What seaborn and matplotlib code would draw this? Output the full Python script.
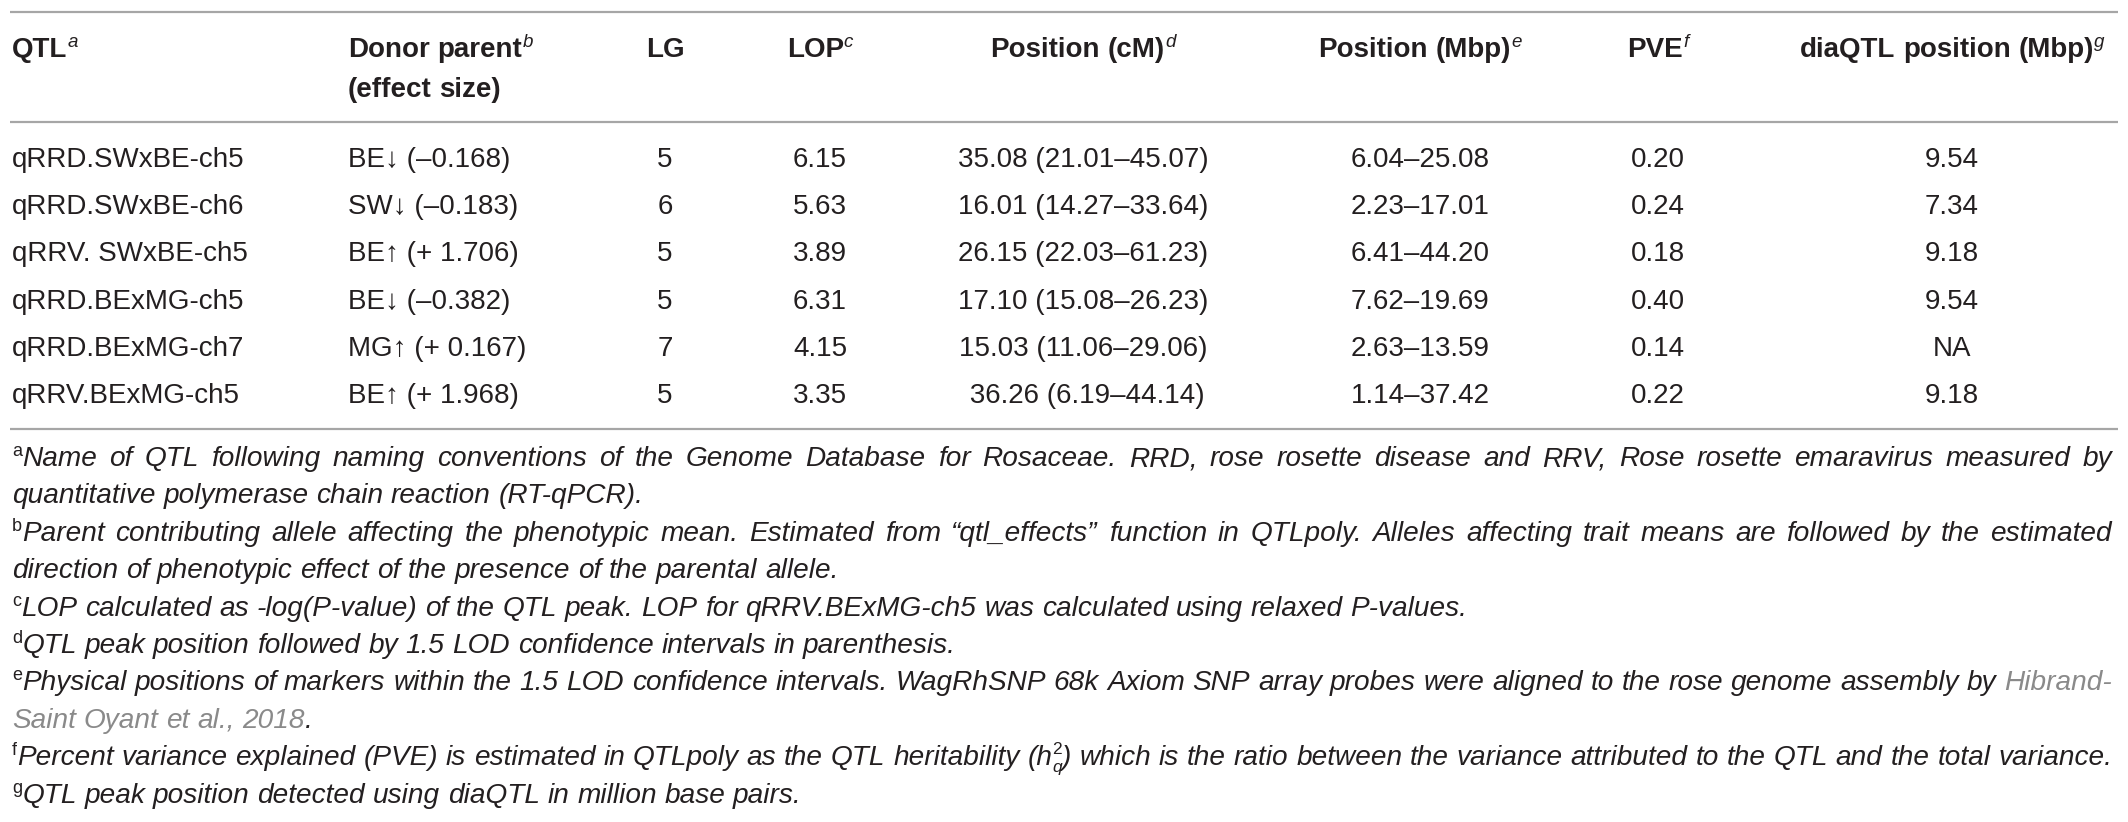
import matplotlib
matplotlib.use("Agg")
import matplotlib.pyplot as plt
import seaborn as sns

# ---------------- table content ----------------
qtl_names = ["qRRD.SWxBE-ch5", "qRRD.SWxBE-ch6", "qRRV. SWxBE-ch5",
             "qRRD.BExMG-ch5", "qRRD.BExMG-ch7", "qRRV.BExMG-ch5"]
donor = ["BE", "SW", "BE", "BE", "MG", "BE"]
direction = ["↓", "↓", "↑", "↓", "↑", "↑"]
effect_size = ["–0.168", "–0.183", "+ 1.706", "–0.382", "+ 0.167", "+ 1.968"]
linkage_group = [5, 6, 5, 5, 7, 5]
lop = ["6.15", "5.63", "3.89", "6.31", "4.15", "3.35"]
peak_cm = ["35.08", "16.01", "26.15", "17.10", "15.03", " 36.26"]
ci_cm = ["21.01–45.07", "14.27–33.64", "22.03–61.23", "15.08–26.23",
         "11.06–29.06", "6.19–44.14"]
pos_mbp = ["6.04–25.08", "2.23–17.01", "6.41–44.20", "7.62–19.69",
           "2.63–13.59", "1.14–37.42"]
pve = ["0.20", "0.24", "0.18", "0.40", "0.14", "0.22"]
diaqtl_mbp = ["9.54", "7.34", "9.18", "9.54", "NA", "9.18"]

header_labels = ["QTL", "Donor parent", "LG", "LOP", "Position (cM)",
                 "Position (Mbp)", "PVE", "diaQTL position (Mbp)"]
header_notes = ["a", "b", "", "c", "d", "e", "f", "g"]
header_second = ["", "(effect size)", "", "", "", "", "", ""]

# § toggles the grey (link) colour
footnote_marks = ["a", "", "b", "", "c", "d", "e", "", "f", "g"]
footnote_lines = [
    "Name of QTL following naming conventions of the Genome Database for Rosaceae. RRD, rose rosette disease and RRV, Rose rosette emaravirus measured by",
    "quantitative polymerase chain reaction (RT-qPCR).",
    "Parent contributing allele affecting the phenotypic mean. Estimated from “qtl_effects” function in QTLpoly. Alleles affecting trait means are followed by the estimated",
    "direction of phenotypic effect of the presence of the parental allele.",
    "LOP calculated as -log(P-value) of the QTL peak. LOP for qRRV.BExMG-ch5 was calculated using relaxed P-values.",
    "QTL peak position followed by 1.5 LOD confidence intervals in parenthesis.",
    "Physical positions of markers within the 1.5 LOD confidence intervals. WagRhSNP 68k Axiom SNP array probes were aligned to the rose genome assembly by §Hibrand-",
    "Saint Oyant et al., 2018§.",
    "Percent variance explained (PVE) is estimated in QTLpoly as the QTL heritability (h_q^2) which is the ratio between the variance attributed to the QTL and the total variance.",
    "QTL peak position detected using diaQTL in million base pairs.",
]
footnote_justified = [True, False, True, False, False, False, True, False, True, False]

# ---------------- layout / style ----------------
W, H = 2128, 822
sns.set_theme(style="white")
FAM = ["Liberation Sans", "DejaVu Sans"]
plt.rcParams["font.family"] = FAM

TXT = "#231f20"
LINK = "#8a8a8a"
RULE = "#a6a6a6"
BODY = 20.0
FOOT = 20.2

fig = plt.figure(figsize=(W / 100, H / 100), dpi=100)
ax = fig.add_axes([0, 0, 1, 1])
ax.set_xlim(0, W)
ax.set_ylim(H, 0)
ax.set_axis_off()
renderer = fig.canvas.get_renderer()

HEAD = dict(size=BODY, weight="bold")
HSUP = dict(size=13.5, style="italic")
FST = dict(size=FOOT, style="italic")
FLINK = dict(size=FOOT, style="italic", color=LINK)
FSUP = dict(size=13.0)


def make(text, st):
    return ax.text(0, 0, text, fontsize=st.get("size", BODY),
                   fontweight=st.get("weight", "normal"),
                   fontstyle=st.get("style", "normal"),
                   color=st.get("color", TXT), ha="left", va="baseline")


def text_w(t):
    return t.get_window_extent(renderer).width


def space_w(st):
    a = make("n n", st)
    b = make("nn", st)
    w = text_w(a) - text_w(b)
    a.remove()
    b.remove()
    return w


def build_word(segs):
    items = []
    off = 0.0
    prev_start = 0.0
    for seg in segs:
        t = make(seg["text"], seg["st"])
        w = text_w(t)
        if seg.get("stack"):
            start = prev_start
            off = max(off, start + w)
        else:
            start = off
            off = start + w
        items.append((t, start, seg.get("rise", 0.0)))
        prev_start = start
    return items, off


def draw_line(words, y, gap_style, x=None, center=None, right=None):
    built = [build_word(w) for w in words]
    ws = [b[1] for b in built]
    gap = space_w(gap_style)
    total = sum(ws) + gap * (len(ws) - 1)
    if center is not None:
        x = center - total / 2
    if right is not None and len(ws) > 1:
        gap = (right - x - sum(ws)) / (len(ws) - 1)
    cx = x
    for items, w in built:
        for t, start, rise in items:
            t.set_position((cx + start, y - rise))
        cx += w + gap


# ---------------- rules ----------------
RULE_X0, RULE_X1 = 10, 2118
for yr in (11.7, 121.7, 429.0):
    ax.plot([RULE_X0, RULE_X1], [yr, yr], color=RULE, lw=1.6,
            solid_capstyle="butt")

# ---------------- header ----------------
col_x = [12, 348, 665, 820, 1083, 1420, 1658, 1952]
col_align = ["left", "left", "center", "center", "center", "center", "center", "center"]
HEAD_Y1, HEAD_Y2 = 57.0, 97.0

for lab, note, second, cx, al in zip(header_labels, header_notes, header_second,
                                      col_x, col_align):
    words = [[dict(text=w, st=HEAD)] for w in lab.split(" ")]
    if note:
        words[-1].append(dict(text=note, st=HSUP, rise=10.0))
    if al == "left":
        draw_line(words, HEAD_Y1, HEAD, x=cx)
    else:
        draw_line(words, HEAD_Y1, HEAD, center=cx)
    if second:
        w2 = [[dict(text=w, st=HEAD)] for w in second.split(" ")]
        if al == "left":
            draw_line(w2, HEAD_Y2, HEAD, x=cx)
        else:
            draw_line(w2, HEAD_Y2, HEAD, center=cx)

# ---------------- body ----------------
ROW0, ROWSTEP = 167.0, 47.2
for i in range(len(qtl_names)):
    y = ROW0 + i * ROWSTEP
    cells = [
        qtl_names[i],
        f"{donor[i]}{direction[i]} ({effect_size[i]})",
        str(linkage_group[i]),
        lop[i],
        f"{peak_cm[i]} ({ci_cm[i]})",
        pos_mbp[i],
        pve[i],
        diaqtl_mbp[i],
    ]
    for txt, cx, al in zip(cells, col_x, col_align):
        ax.text(cx, y, txt, fontsize=BODY, color=TXT, ha=al, va="baseline")

# ---------------- footnotes ----------------
FN0, FNSTEP = 466.0, 37.4
FN_X, FN_RIGHT = 12, 2112
state = {"link": False}
for k, (mark, line, just) in enumerate(zip(footnote_marks, footnote_lines,
                                          footnote_justified)):
    y = FN0 + k * FNSTEP
    words = []
    for j, tok in enumerate(line.split(" ")):
        segs = []
        if j == 0 and mark:
            segs.append(dict(text=mark, st=FSUP, rise=10.0))
        if tok == "(h_q^2)":
            segs += [dict(text="(h", st=FST),
                     dict(text="2", st=dict(size=12.5), rise=11.0),
                     dict(text="q", st=dict(size=12.5, style="italic"), rise=-7.0,
                          stack=True),
                     dict(text=")", st=FST)]
        else:
            parts = tok.split("§")
            for p_i, p in enumerate(parts):
                if p_i > 0:
                    state["link"] = not state["link"]
                if p:
                    segs.append(dict(text=p, st=FLINK if state["link"] else FST))
        words.append(segs)
    draw_line(words, y, FST, x=FN_X, right=FN_RIGHT if just else None)

fig.savefig("out.png", dpi=100, facecolor="white")
